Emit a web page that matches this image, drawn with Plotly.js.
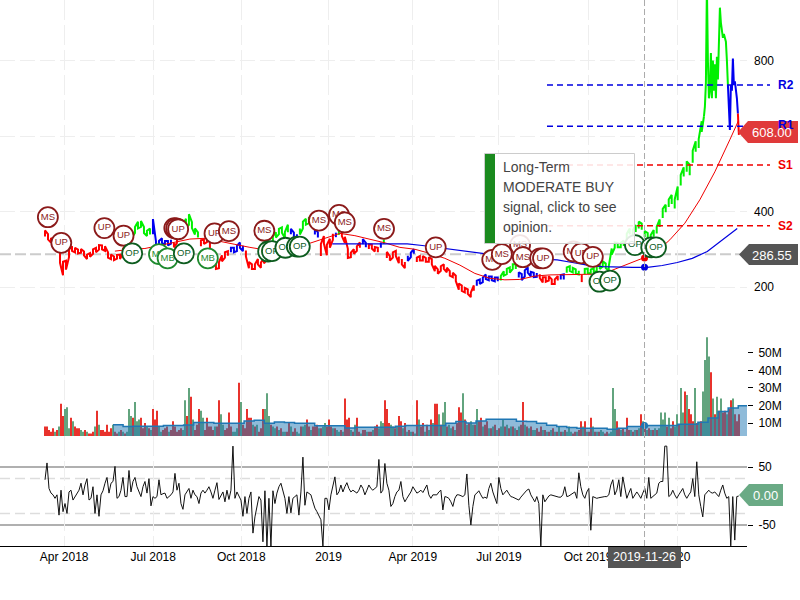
<!DOCTYPE html>
<html><head><meta charset="utf-8">
<script src="https://cdn.plot.ly/plotly-3.0.1.min.js"></script>
<style>html,body{margin:0;padding:0;background:#fff}#c{width:800px;height:600px}</style>
</head><body><div id="c"></div>
<script>
// ---------- data ----------
const closeEvery3 = [
342,333,324,316,307,280,249,258,289,302,298,294,296,289,280,285,294,298,305,305,302,285,280,276,280,280,
295,307,325,338,351,364,367,351,342,347,360,311,316,323,317,316,320,311,325,342,355,369,379,364,347,338,
316,320,325,311,280,254,258,276,285,289,298,298,302,311,302,289,258,254,254,267,258,270,280,289,325,338,
347,351,338,355,347,338,333,347,364,373,377,369,347,338,298,325,298,316,333,338,344,342,325,289,285,294,
302,311,320,311,307,307,300,298,311,320,285,276,285,289,272,
267,258,276,285,294,272,276,276,272,273,267,249,241,249,254,245,236,232,223,201,197,192,188,179,197,
210,214,219,227,223,223,220,220,223,236,241,245,254,254,232,226,236,245,234,232,232,229,219,220,223,214,
214,223,226,227,245,249,245,241,238,223,241,243,241,245,249,254,261,256,249,294,311,311,311,316,333,347,
342,355,364,360,340,335,330,342,351,369,395,408,422,432,420,448,483,505,519,510,545,572,580,625];
const closeSpread = [
8,7,6,6,7,16,18,12,10,6,6,5,5,5,6,5,6,6,6,5,6,7,6,5,5,6,
6,7,7,7,8,9,8,8,7,8,20,10,6,6,5,6,5,6,8,8,9,12,14,8,8,7,
8,6,6,8,10,6,8,8,7,6,6,6,7,7,7,8,8,6,6,7,7,7,8,10,10,7,
7,7,8,10,7,6,7,8,9,8,8,8,8,7,16,10,14,12,8,6,6,7,8,12,6,6,
6,7,7,6,6,5,6,6,7,6,8,6,7,7,9,
7,8,7,6,6,6,6,6,5,6,7,7,6,6,6,6,6,6,7,8,7,6,6,6,7,
7,6,6,6,5,5,5,5,6,6,7,7,6,6,7,8,8,7,6,6,5,5,7,6,6,6,
6,6,6,7,7,6,6,6,5,10,7,6,5,5,6,6,7,6,6,8,7,6,6,7,8,8,
8,9,9,8,8,8,8,9,9,10,12,10,10,12,12,18,14,12,14,14,16,14,12,14];
const closeTrendRuns = [['r',29],['g',7],['b',7],['r',3],['g',6],['r',10],['b',5],['r',8],['g',7],['b',3],['g',5],['b',2],['r',5],['b',1],['g',1],['r',7],['b',2],['r',4],['b',1],['g',1],['r',5],
['r',2],['b',3],['r',20],['b',8],['g',6],['b',7],['r',7],['b',2],['g',5],['r',1],['g',40]];
const closeDaily = [651,678,740,1000,800,700,720,820,700,800,720,790,700,810,750,860,940,900,880,860,870,860,850,800,
735,660,616,735,720,805,735,745,725,700,660,603];
const closeDailyRuns = [['g',24],['b',10],['r',2]];

const fastAvg = [295,300,302,311,320,327,329,320,313,305,298,292,300,316,329,342,336,327,317,305,
300,289,276,258,236,223,219,220,229,232,232,234,234,242,258,272,289,325,369,431,505,590,640];
const slowAvg = [314,314,316,316,316,314,310,305,301,295,289,283,278,276,274,272,265,258,254,252,252,252,257,265,276,294,325,355];

const volumeM = [
8,8,6,5,7,5,6,8,21,14, 18,19,7,13,11,8,7,7,6,5, 6,5,4,4,5,8,17,9,6,6, 5,9,5,7,9,5,4,5,6,5,
4,5,18,14,13,22,11,12,13,7, 10,8,7,6,18,12,17,8,5,6, 7,8,5,6,11,8,5,6,7,6, 23,14,30,25,12,6,9,18,17,13,
6,13,8,8,6,8,8,23,15,9, 6,7,16,8,5,5,7,33,22,9, 7,18,13,13,9,8,9,5,7,18, 18,27,14,9,8,7,8,6,7,5,
5,5,10,8,5,7,5,4,8,8, 9,12,8,6,8,8,9,7,7,8, 10,8,12,8,7,7,6,5,6,5, 24,12,13,6,5,9,13,5,4,6,
6,5,5,5,6,8,9,7,11,10, 23,18,10,9,8,7,8,14,
11,7,10,5,6,5,5,4,23,12, 8,10,5,9,6,12,10,21,21,15, 9,16,22,8,9,7,8,6,10,19, 16,27,12,9,10,11,9,9,18,11,
13,8,9,11,7,7,8,9,6,7, 8,12,8,9,7,8,8,7,6,8, 9,22,9,8,7,8,6,6,7,5, 8,6,6,5,5,6,7,5,5,8,
5,5,6,5,8,5,4,5,5,6, 11,8,11,5,5,13,8,5,5,5, 6,5,4,5,4,5,30,18,11,7, 6,7,5,13,6,6,5,6,6,7,
15,11,7,6,7,6,6,7,6,7, 16,12,16,8,13,7,11,8,15,9, 30,16,28,26,18,15,11,30,10,10, 11,28,46,59,48,39,24,15,25,17,
24,16,17,15,18,23,24,15,11,15];
const volumeSide = (
'rrrrrgrgrr'+'gggrgrrrgg'+'rgrrrgrgrr'+'rrrrgrrgrg'+
'rgggrgggrr'+'rgrgrrrggr'+'rrgrrrrrrg'+'grgrgrrrgg'+
'rrrrrgrrgg'+'rrrrgggrgr'+'rrrrgrgrrr'+'gggrggrgrg'+
'grrgrrggrg'+'grrgrrrgrg'+'grrrgrggrg'+'rrrgrgrrgr'+
'rgrrgrrggg'+'rrrggrgr'+
'rgrgrgrgrg'+'rrgrgrgrrg'+'rggrggrgrr'+'rgrgrggrgr'+
'rgrrgrgrgr'+'ggrgrgrgrg'+'rrgrgrggrr'+'rgrgrgrgrg'+
'rgrgggrrgr'+'rgrgrrgrgr'+'ggrrggggrr'+'grgrrgrgrg'+
'rgrgrgrgrg'+'gggrgrrggr'+'ggrgrrrgrg'+'rggggrgrgr'+
'grrgrrgrrr').split('');
const volumeAvgM = [9,8,8.1,8.1,8.2,8.6,8.6,8.8,10.3,10.3,9.9,9.9,9.9,11.2,11.6,9.9,10.6,10.3,9.9,9.9,8.4,8.4,8.4,7.1,7.6,7.6,7.6,7.6,8.1,
8.6,8.6,8.6,8.6,9.9,10.8,10,11.2,12.2,12.2,12.2,11,10.9,9.9,8.7,8,7.5,7,7,7,6.5,7,8,8,8.6,8.6,8.6,9.3,9.3,10.5,12.8,16.5,18.5,19.8,20];

const oscillator = [
28,57,13,5,2,-4,2,-33,10,-27,-13,-30,7,10,-7,-1,4,10,22,2,19,30,-7,-4,16,-30,2,-35,2,9,22,32,5,22,25,51,-4,-1,10,32,-1,-1,44,7,25,32,16,6,-1,16,
25,5,30,-17,-1,-4,-1,28,2,4,5,-4,-1,2,7,39,10,22,-13,-23,2,7,13,-4,10,2,-1,-13,5,10,5,10,16,7,-4,10,23,-6,2,7,-10,10,-6,10,86,-4,7,-1,-7,-35,
-1,-30,-4,7,-64,-36,-21,-1,-7,-79,9,-87,-4,-87,9,-13,5,16,22,7,-4,-30,-1,-29,-4,-1,2,-33,7,67,-16,7,5,2,-10,-21,-27,-33,-41,-87,-4,-4,-24,2,19,33,2,7,19,7,
16,23,13,7,10,7,5,10,19,13,2,10,19,13,10,13,16,63,5,10,56,22,10,-18,-13,-1,7,10,
25,-1,-10,-4,2,7,16,10,5,7,10,6,13,19,2,-4,2,2,2,7,10,-24,-1,-2,-4,-10,-18,-4,2,2,0,-1,2,38,-16,-50,-18,2,5,9,2,-4,-2,-4,13,22,7,-4,-13,32,
13,2,7,10,4,-1,-2,-4,-6,-7,-2,2,5,10,12,2,-4,-10,-1,-13,-86,2,-10,-4,0,2,1,-1,-1,-2,-2,2,16,-1,0,2,5,7,-4,40,16,2,-4,7,13,-59,-1,-2,-4,-3,
-2,-2,-1,-1,2,19,28,2,10,28,-1,33,16,-4,5,13,-4,2,7,2,-4,5,13,-4,32,-4,-1,2,5,22,25,25,86,86,-1,2,10,2,-4,2,7,13,2,-4,2,7,30,-1,59,2,
-18,-36,2,7,10,6,5,7,3,-1,10,19,5,-4,-1,-86,-1,-76,-1,0];

const signalDates = ['2018-03-15','2018-03-29','2018-05-13','2018-06-02','2018-06-11','2018-07-09','2018-07-18','2018-07-25','2018-07-27','2018-07-29','2018-08-04','2018-08-29','2018-09-05','2018-09-20','2018-10-27','2018-10-31','2018-11-04','2018-11-18','2018-11-30','2018-12-03','2018-12-23','2019-01-13','2019-01-19','2019-03-01','2019-04-24','2019-06-22','2019-07-02','2019-07-21','2019-07-24','2019-08-11','2019-08-14','2019-09-15','2019-09-23','2019-10-05','2019-10-12','2019-10-23','2019-11-18','2019-12-05','2019-12-10'];
const signalPrices = [385,317,356,336,289,287,276,356,355,353,289,276,342,348,349,294,295,304,307,307,376,391,371,354,305,272,287,311,279,276,276,294,289,280,214,217,311,305,305];
const signalLabels = ['MS','UP','UP','UP','OP','MB','MB','UP','UP','UP','OP','MB','UP','MS','MS','OP','OP','OP','OP','OP','MS','MS','MS','MS','UP','MS','MS','MS','MS','UP','UP','MS','UP','UP','OP','OP','OP','OP','OP'];

const levelNames = ['R2','R1','S1','S2'];
const levelValues = [735,626,523,362];
const lastPrice = 608, refPrice = 286.55;
const crossDate = '2019-11-26', crossAxisDate = '2019-11-28';
const crossFast = 277, crossSlow = 252, crossVolumeAvg = 8.6;

const dateTicks = ['2018-04-01','2018-07-03','2018-10-03','2019-01-02','2019-03-31','2019-06-29','2019-09-30','2020-01-01'];
const dateLabels = ['Apr 2018','Jul 2018','Oct 2018','2019','Apr 2019','Jul 2019','Oct 2019','2020'];
const opinionLines = ['Long-Term','MODERATE BUY','signal, click to see','opinion.'];

// ---------- helpers ----------
const DAY = 86400000;
const seq = (start, step, n) => Array.from({length:n},(_,i)=>new Date(Date.parse(start+'T00:00:00Z')+i*step*DAY).toISOString());
const colour = {r:'#ff0000', g:'#00f000', b:'#0000f0'};
const bigDates = seq('2018-03-12',3.131,closeEvery3.length).concat(seq('2020-01-29',1.0438,closeDaily.length));
const bigValues = closeEvery3.concat(closeDaily);
const allRuns = closeTrendRuns.concat(closeDailyRuns);
const priceTraces = {r:{x:[],y:[]},g:{x:[],y:[]},b:{x:[],y:[]}};
let p = 0;
allRuns.forEach(([c,n])=>{
  const t = priceTraces[c];
  for(let i=p;i<p+n;i++){
    const s = closeSpread[i];
    if(s){
      const a = i%2?s:-s;
      t.x.push(bigDates[i],bigDates[i]);t.y.push(bigValues[i]+a,bigValues[i]-a);
      // the steep final advance is drawn as separate ticks, as in the picture
      if(i>=195 && i<closeEvery3.length-1 && i%2===1){t.x.push(null);t.y.push(null);}
    } else {t.x.push(bigDates[i]);t.y.push(bigValues[i]);}
  }
  if(p+n<bigValues.length && !closeSpread[p+n]){t.x.push(bigDates[p+n]);t.y.push(bigValues[p+n]);}
  t.x.push(null);t.y.push(null);
  p+=n;
});
const traces = [];
['r','g','b'].forEach(c=>traces.push({type:'scatter',mode:'lines',x:priceTraces[c].x,y:priceTraces[c].y,line:{color:colour[c],width:2},xaxis:'x',yaxis:'y',connectgaps:false}));
const fastDates = seq('2018-05-24',15.66,fastAvg.length-1).concat(['2020-03-05T00:00:00.000Z']);
traces.push({type:'scatter',mode:'lines',x:fastDates,y:fastAvg,line:{color:'#f00000',width:1},yaxis:'y'});
traces.push({type:'scatter',mode:'lines',x:seq('2019-01-06',15.66,slowAvg.length),y:slowAvg,line:{color:'#0000e0',width:1.2},yaxis:'y'});
traces.push({type:'scatter',mode:'markers',x:[crossAxisDate,crossAxisDate],y:[crossFast,crossSlow],marker:{size:7,color:['#f00000','#0000e0']},yaxis:'y'});
signalLabels.forEach((lab,i)=>{
  const col = lab==='OP'?'#0d5c1f':lab==='MB'?'#1e8a2e':'#8b1a1a';
  traces.push({type:'scatter',mode:'markers+text',x:[signalDates[i]],y:[signalPrices[i]],text:[lab],textposition:'middle center',
    textfont:{family:'Liberation Sans',size:9.5,color:col},marker:{size:20,color:'#fff',line:{color:col,width:1.8}},yaxis:'y'});
});
const volDates = seq('2018-03-12',2.0876,volumeM.length);
traces.push({type:'bar',x:volDates,y:volumeM.map(v=>v*1e6),width:volumeM.map(()=>0.7*DAY),
  marker:{color:volumeSide.map(s=>s==='r'?'#e8322c':'#62a47e'),line:{width:0}},yaxis:'y2'});
traces.push({type:'scatter',mode:'lines',x:seq('2018-05-22',10.53,volumeAvgM.length),y:volumeAvgM.map(v=>v*1e6),
  fill:'tozeroy',fillcolor:'rgba(31,119,180,0.5)',line:{color:'#1f77b4',width:1.5,shape:'hv'},yaxis:'y2'});
traces.push({type:'scatter',mode:'markers',x:[crossAxisDate],y:[crossVolumeAvg*1e6],marker:{size:7,color:'#1f77b4'},yaxis:'y2'});
traces.push({type:'scatter',mode:'lines',x:volDates.slice(0,oscillator.length),y:oscillator,line:{color:'#111',width:1},yaxis:'y3'});

// ---------- decoration (pixel helpers for the overlay) ----------
const px = v=>v/800, py = v=>1-v/600;
const tag = (x0,x1,y0,y1,fill)=>({type:'path',xref:'paper',yref:'paper',fillcolor:fill,line:{width:0},layer:'above',
  path:`M ${px(x0)} ${py((y0+y1)/2)} L ${px(x0+10)} ${py(y0)} L ${px(x1)} ${py(y0)} L ${px(x1)} ${py(y1)} L ${px(x0+10)} ${py(y1)} Z`});
const rect = (x0,x1,y0,y1,fill,line)=>({type:'rect',xref:'paper',yref:'paper',x0:px(x0),x1:px(x1),y0:py(y0),y1:py(y1),fillcolor:fill,line:line||{width:0},layer:'above'});
const note = (text,x,y,o)=>Object.assign({text,xref:'paper',yref:'paper',x:px(x),y:py(y),showarrow:false,xanchor:'center',yanchor:'middle',
  font:{family:'Liberation Sans',size:13,color:'#fff'}},o||{});
const PLOT_R = 747/800;
const hline = (yref,v,color,width,dash)=>({type:'line',xref:'paper',x0:0,x1:PLOT_R,yref,y0:v,y1:v,line:{color,width,dash},layer:'below'});
const shapes = [
  hline('y3',50,'#b0b0b0',2,'solid'),hline('y3',-50,'#b0b0b0',2,'solid'),
  hline('y3',30,'#dddddd',1.5,'10px,5px'),hline('y3',-30,'#dddddd',1.5,'10px,5px'),
  hline('y',refPrice,'#cccccc',2,'11px,4px'),
  {type:'line',xref:'x',x0:crossAxisDate,x1:crossAxisDate,yref:'paper',y0:0.09,y1:1,line:{color:'#aaaaaa',width:1,dash:'6px,3px'},layer:'above'}
];
const levelColour = ['#0000e0','#0000e0','#f00000','#f00000'];
levelValues.forEach((v,i)=>shapes.push({type:'line',xref:'paper',x0:px(547),x1:px(770),yref:'y',y0:v,y1:v,line:{color:levelColour[i],width:1.5,dash:'6px,4px'},layer:'above'}));
shapes.push(rect(484.5,634.5,153.5,243.5,'rgba(255,255,255,0.88)',{color:'#cccccc',width:1}));
shapes.push(rect(485,495,154,243,'#1a8a1e'));
shapes.push(tag(739,798,244,265,'#555555'));
shapes.push(tag(738,798,121,143,'#e03a3a'));
shapes.push(tag(739,783,484,506,'#6aaa85'));
shapes.push(rect(608,681,547,568,'#555555'));
const annotations = [];
const levelY = [85,125,165,226];
levelNames.forEach((n,i)=>annotations.push(note(n,785.5,levelY[i],{font:{family:'Liberation Sans',size:12,color:levelColour[i],weight:'bold'}})));
annotations.push(note(lastPrice.toFixed(2),772,132.5));
annotations.push(note(refPrice.toFixed(2),772,255));
annotations.push(note('0.00',765,495));
annotations.push(note(crossDate,644.5,556.5,{font:{family:'Liberation Sans',size:12.5,color:'#fff'}}));
opinionLines.forEach((t,i)=>annotations.push(note(t,501,167+20*i,{xanchor:'left',font:{family:'Liberation Sans',size:14,color:'#444'}})));

const tickFont = {family:'Liberation Sans',size:12,color:'#000'};
const layout = {
  width:800,height:600,margin:{l:0,r:0,t:0,b:0},paper_bgcolor:'#fff',plot_bgcolor:'#fff',showlegend:false,hovermode:false,barmode:'overlay',
  font:{family:'Liberation Sans'},
  xaxis:{type:'date',domain:[0,PLOT_R],range:['2018-01-24','2020-03-14'],anchor:'y3',tickvals:dateTicks,ticktext:dateLabels,tickfont:tickFont,ticks:'',
    showgrid:true,gridcolor:'#eeeeee',griddash:'20px,5px',gridwidth:1,showline:true,linecolor:'#000',linewidth:1,zeroline:false,ticklabelstandoff:0},
  yaxis:{domain:[0.45,1],range:[86.1,960.3],side:'right',anchor:'x',tickvals:[200,400,600,800],ticktext:['200','400','','800'],tickfont:tickFont,ticks:'',
    showgrid:true,gridcolor:'#eeeeee',griddash:'15px,5px',zeroline:false,showline:false,ticklabelstandoff:6},
  yaxis2:{domain:[0.2733,0.45],range:[2.57e6,63.1e6],side:'right',anchor:'x',tickvals:[1e7,2e7,3e7,4e7,5e7],ticktext:['10M','20M','30M','40M','50M'],tickfont:tickFont,
    ticks:'outside',ticklen:5,tickcolor:'#000',tickwidth:1,showgrid:false,zeroline:false,showline:false,ticklabelstandoff:3},
  yaxis3:{domain:[0.09,0.2733],range:[-86.2,103.4],side:'right',anchor:'x',tickvals:[50,-50],ticktext:['50','-50'],tickfont:tickFont,
    ticks:'outside',ticklen:5,tickcolor:'#000',tickwidth:1,showgrid:false,zeroline:false,showline:false,ticklabelstandoff:3},
  shapes,annotations
};
Plotly.newPlot('c',traces,layout,{displayModeBar:false});
</script></body></html>
